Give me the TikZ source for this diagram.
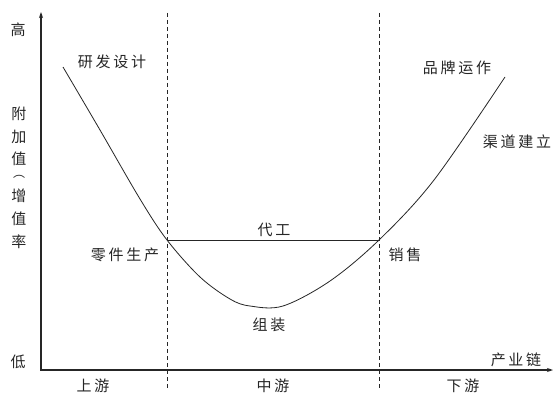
\documentclass[tikz,border=0pt]{standalone}
\usepackage{fontspec}
\newfontfamily\cjk[LetterSpace=18]{Noto Sans CJK SC}
\newfontfamily\cjkv{Noto Sans CJK SC}
\usetikzlibrary{arrows.meta}
\tikzset{
  lbl/.style={font=\cjk\fontsize{15}{18}\selectfont, text=black!85, inner sep=0pt},
  vlbl/.style={font=\cjkv\fontsize{15}{18}\selectfont, text=black!85, inner sep=0pt},
  axisline/.style={-{Stealth[length=6pt,width=4pt]}, black!85},
  divider/.style={dashed, dash pattern=on 4pt off 3pt, line width=0.8pt, black!85},
  curveline/.style={line width=0.8pt, black!85},
}
\begin{document}
\begin{tikzpicture}[x=1pt,y=-1pt]
\useasboundingbox (0,0) rectangle (557,396);
\fill[white] (0,0) rectangle (557,396);
% axes
\coordinate (o) at (41,370);
\coordinate (ytop) at (41,12);
\coordinate (xend) at (553,370);
\draw[axisline, line width=1.2pt] (o) -- (ytop);
\draw[axisline, line width=1.8pt] ([xshift=-0.6pt]o) -- (xend);
% dividers
\coordinate (d1t) at (167,13);
\coordinate (d1b) at (167,388);
\coordinate (d2t) at (379,13);
\coordinate (d2b) at (379,388);
\draw[divider] (d1t) -- (d1b);
\draw[divider] (d2t) -- (d2b);
% smile curve
\coordinate (pl) at (167,240);
\coordinate (pr) at (379,240);
\draw[curveline] plot[smooth, tension=0.55] coordinates {(63,67) (100,130) (140,199) (167,240) (200,277) (230,299) (250,306) (283,306) (330,281) (379,240) (434,180) (505,77)};
\draw[curveline] (pl) -- (pr);
% labels
\node[lbl] (high) at (18,30) {高};
\node[lbl] (low) at (18,362) {低};
\node[vlbl] (y1) at (19,114) {附};
\node[vlbl] (y2) at (19,137) {加};
\node[vlbl] (y3) at (19,159) {值};
\node[vlbl, font=\cjkv\fontsize{12}{14}\selectfont] (y4) at (19,177) {︵};
\node[vlbl] (y5) at (19,196) {增};
\node[vlbl] (y6) at (19,219) {值};
\node[vlbl] (y7) at (19,242) {率};
\node[lbl] (rd) at (112,62) {研发设计};
\node[lbl] (parts) at (125,255) {零件生产};
\node[lbl] (oem) at (274,230) {代工};
\node[lbl] (asm) at (269,325) {组装};
\node[lbl] (sale) at (405,255) {销售};
\node[lbl] (brand) at (457,68) {品牌运作};
\node[lbl] (chan) at (517,142) {渠道建立};
\node[lbl] (chain) at (516,360) {产业链};
\node[lbl] (up) at (93,386) {上游};
\node[lbl] (mid) at (273,386) {中游};
\node[lbl] (down) at (463,386) {下游};
\end{tikzpicture}
\end{document}
